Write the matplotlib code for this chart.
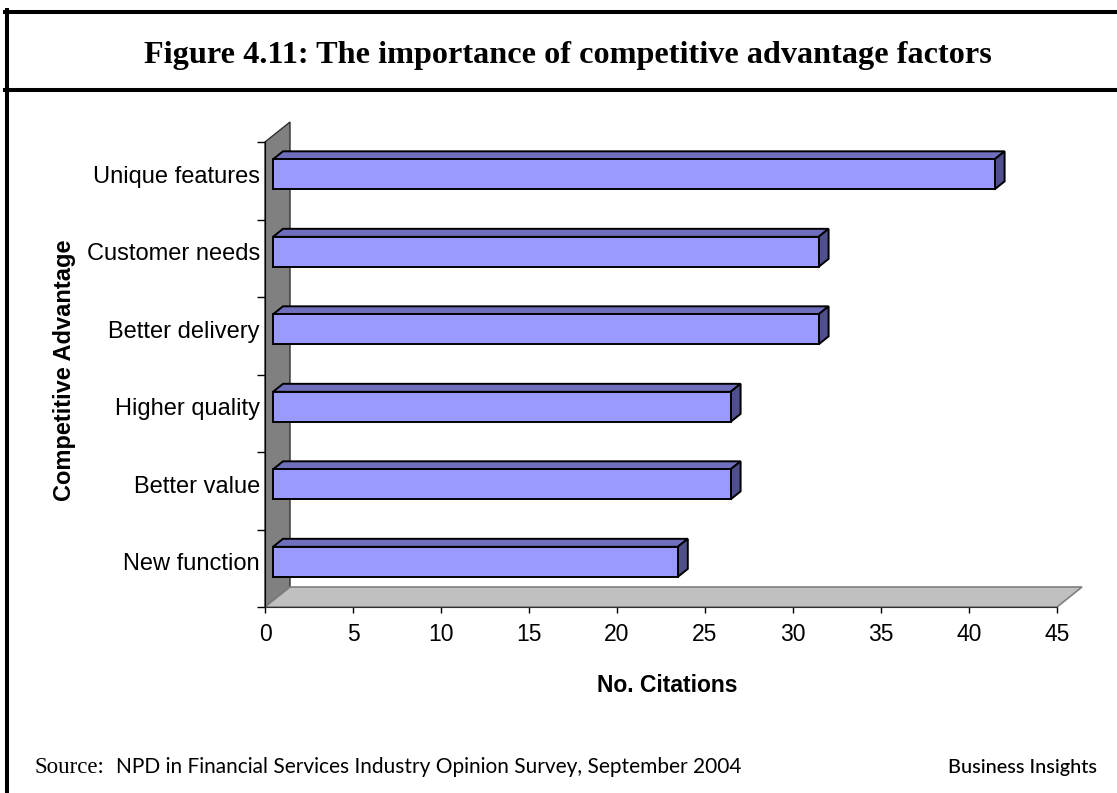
import matplotlib.pyplot as plt
from matplotlib.patches import Polygon
from matplotlib.lines import Line2D

# survey results: citations per competitive advantage factor
categories = ["New function", "Better value", "Higher quality",
              "Better delivery", "Customer needs", "Unique features"]
citations = [23, 26, 26, 31, 31, 41]
x_ticks = [0, 5, 10, 15, 20, 25, 30, 35, 40, 45]

W, H = 1117, 793

def fx(px):
    return px / W

def fy(py):
    return 1 - py / H

fig = plt.figure(figsize=(W / 100, H / 100), dpi=100)

# plot area = front plane of the 3D box
ax = fig.add_axes([fx(265), fy(607), fx(1057) - fx(265), fy(142) - fy(607)])
ax.set_xlim(0, 45)
ax.set_ylim(0, len(categories))

# depth of the box in data units
DX = 25 / 17.6
DY = 20 / 77.5
d0, d1 = 0.32, 0.72     # bar front / back depth
half = 0.194            # half bar height

def shift(x, y, d):
    return (x + d * DX, y + d * DY)

# back wall and floor
wall = Polygon([(0, 0), (0, 6), shift(0, 6, 1), shift(0, 0, 1)],
               closed=True, facecolor="#808080", edgecolor="#303030",
               lw=1, clip_on=False, zorder=1)
floor = Polygon([(0, 0), (45, 0), shift(45, 0, 1), shift(0, 0, 1)],
                closed=True, facecolor="#c0c0c0", edgecolor="#808080",
                lw=1.2, clip_on=False, zorder=1)
ax.add_patch(wall)
ax.add_patch(floor)

# 3D bars
for i, v in enumerate(citations):
    c = i + 0.5
    lo, hi = c - half, c + half
    front = [shift(0, lo, d0), shift(v, lo, d0), shift(v, hi, d0), shift(0, hi, d0)]
    top = [shift(0, hi, d0), shift(v, hi, d0), shift(v, hi, d1), shift(0, hi, d1)]
    side = [shift(v, lo, d0), shift(v, hi, d0), shift(v, hi, d1), shift(v, lo, d1)]
    for pts, col in [(top, "#6f6fbd"), (side, "#4f4f8a"), (front, "#9999ff")]:
        ax.add_patch(Polygon(pts, closed=True, facecolor=col, edgecolor="black",
                             lw=1.4, joinstyle="miter", clip_on=False, zorder=3))

for s in ["top", "right"]:
    ax.spines[s].set_visible(False)
ax.spines["left"].set_color("black")
ax.spines["bottom"].set_color("#303030")
ax.spines["left"].set_zorder(2)
ax.spines["bottom"].set_zorder(2)

ax.set_xticks(x_ticks)
ax.set_xticklabels([str(t) for t in x_ticks], fontsize=16.5, family="Liberation Sans")
ax.tick_params(axis="x", direction="out", length=4.3, width=1, pad=7)

ax.set_yticks([i + 0.5 + d0 * DY for i in range(len(categories))])
ax.set_yticklabels(categories, fontsize=17, family="Liberation Sans")
ax.set_yticks(range(len(categories) + 1), minor=True)
ax.tick_params(axis="y", which="major", length=0, pad=3.6)
ax.tick_params(axis="y", which="minor", direction="out", length=5.8, width=1)

ax.set_xlabel("No. Citations", fontsize=16.5, fontweight="bold",
              family="Liberation Sans")
ax.xaxis.set_label_coords(fx(667 - 265) / (fx(1057) - fx(265)), -0.145)
fig.text(fx(65), fy(370), "Competitive Advantage", rotation=90, ha="center",
         va="center", fontsize=17, fontweight="bold", family="Liberation Sans")

# frame around the figure
lw = 2.9
fig.add_artist(Line2D([fx(7), fx(7)], [fy(10), 0], color="black", lw=lw))
fig.add_artist(Line2D([fx(5), 1], [fy(11.5), fy(11.5)], color="black", lw=lw))
fig.add_artist(Line2D([fx(5), 1], [fy(89.5), fy(89.5)], color="black", lw=lw))

fig.text(fx(568), fy(56), "Figure 4.11: The importance of competitive advantage factors",
         ha="center", va="center", fontsize=23.2, fontweight="bold",
         family="Liberation Serif")

fig.text(fx(34), fy(773), "Source:", ha="left", va="baseline", fontsize=16.5,
         family="Liberation Serif")
fig.text(fx(116), fy(773), "NPD in Financial Services Industry Opinion Survey, September 2004",
         ha="left", va="baseline", fontsize=15, family="Lato")
fig.text(fx(1097), fy(773), "Business Insights", ha="right", va="baseline",
         fontsize=14.3, family="Lato", fontweight="medium")

fig.savefig("out.png", dpi=100)
